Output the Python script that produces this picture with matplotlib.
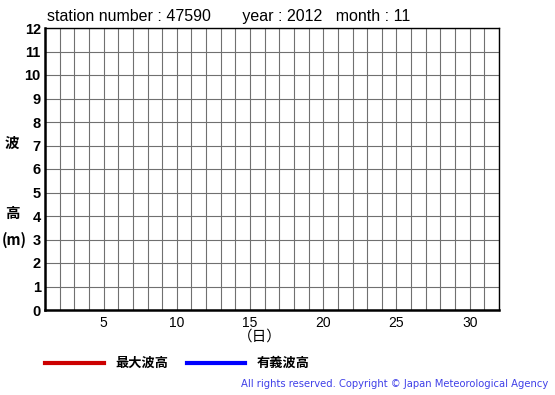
import matplotlib.pyplot as plt
import numpy as np

station = "47590"
year = 2012
month = 11
days = np.arange(1, 33)
heights = np.arange(0, 13)
x_ticks = [5, 10, 15, 20, 25, 30]

# no observations for this month -> empty series
max_wave = []
sig_wave = []

plt.rcParams['font.family'] = ['Liberation Sans', 'Noto Sans CJK JP', 'DejaVu Sans']

fig = plt.figure(figsize=(5.55, 3.95), dpi=100)
ax = fig.add_axes([45 / 555, 85 / 395, 454 / 555, 282 / 395])

ax.set_xlim(1, 32)
ax.set_ylim(0, 12)
for d in days:
    ax.axvline(d, color='#707070', lw=0.8, zorder=1)
for h in heights:
    ax.axhline(h, color='#707070', lw=0.8, zorder=1)

ax.plot(max_wave, color='#cc0000')
ax.plot(sig_wave, color='#0000ff')

ax.set_xticks(x_ticks)
ax.set_xticklabels([str(t) for t in x_ticks], fontsize=10)
ax.set_yticks(heights)
ax.set_yticklabels([str(h) for h in heights], fontsize=10.5, fontweight='bold')
ax.tick_params(length=0, pad=4)
ax.tick_params(axis='y', pad=3)
for s in ax.spines.values():
    s.set_color('black')
    s.set_linewidth(1.0)
ax.spines['left'].set_linewidth(1.8)
ax.spines['bottom'].set_linewidth(1.8)

fig.text(47 / 555, 1 - 16 / 395,
         f"station number : {station}       year : {year}   month : {month}",
         fontsize=11.5, va='center', ha='left')

jp = ['Noto Sans CJK JP', 'DejaVu Sans']
fig.text(12 / 555, 1 - 143 / 395, '波', fontsize=10.5, fontweight='bold', family=jp, ha='center', va='center')
fig.text(12 / 555, 1 - 213 / 395, '高', fontsize=10.5, fontweight='bold', family=jp, ha='center', va='center')
fig.text(2 / 555, 1 - 240 / 395, '(m)', fontsize=10.5, fontweight='bold', family=jp, ha='left', va='center')
fig.text(260 / 555, 1 - 337 / 395, '（日）', fontsize=10.5, family=jp, ha='center', va='center')

# legend drawn by hand below the axes
fig.add_artist(plt.Line2D([45 / 555, 104 / 555], [1 - 363 / 395] * 2, color='#cc0000', lw=3))
fig.add_artist(plt.Line2D([187 / 555, 245 / 555], [1 - 363 / 395] * 2, color='#0000ff', lw=3))
fig.text(115 / 555, 1 - 363 / 395, '最大波高', fontsize=9.5, fontweight='bold', family=jp, va='center')
fig.text(257 / 555, 1 - 363 / 395, '有義波高', fontsize=9.5, fontweight='bold', family=jp, va='center')

fig.text(548 / 555, 1 - 384 / 395, 'All rights reserved. Copyright © Japan Meteorological Agency',
         fontsize=7.2, color='#4040e8', ha='right', va='center', family='DejaVu Sans')

fig.savefig('out.png', dpi=100)
